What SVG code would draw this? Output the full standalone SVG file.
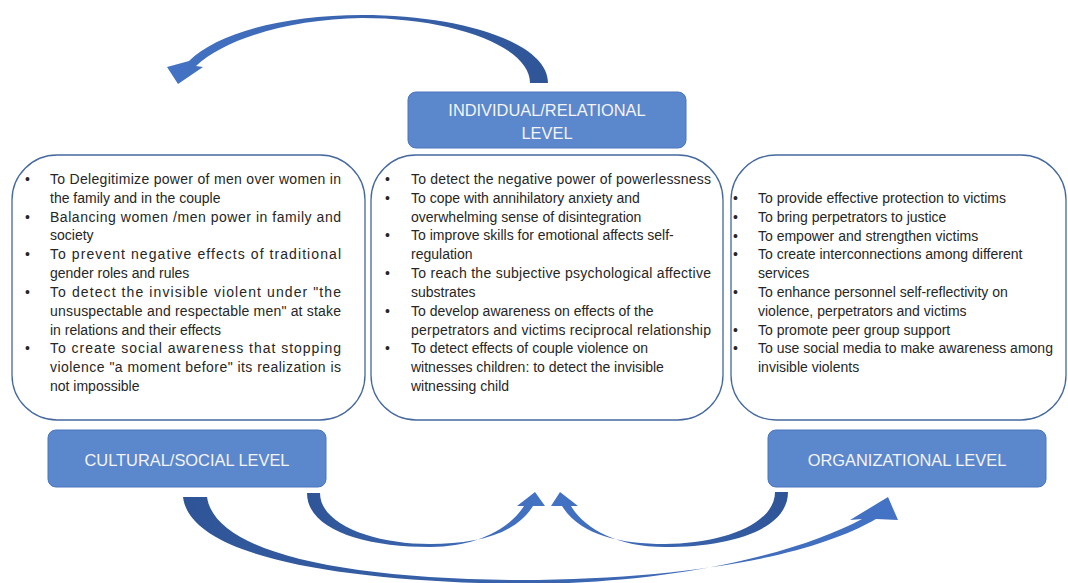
<svg xmlns="http://www.w3.org/2000/svg" width="1068" height="583" viewBox="0 0 1068 583">
<style>
.lvl{fill:#5b87cd;stroke:#4a75bb;stroke-width:1}
.lvlt{font-family:"Liberation Sans",Arial,sans-serif;font-size:16.4px;fill:#f4f4f4;text-anchor:middle}
.box{fill:#ffffff;stroke:#44689f;stroke-width:1.3}
.t{font-family:"Liberation Sans",Arial,sans-serif;font-size:14px;fill:#262626}
</style>
<defs>
<linearGradient id="gL" x1="0" y1="0" x2="1" y2="0">
<stop offset="0" stop-color="#2f5597"/><stop offset="1" stop-color="#4473c5"/>
</linearGradient>
<linearGradient id="gR" x1="1" y1="0" x2="0" y2="0">
<stop offset="0" stop-color="#2f5597"/><stop offset="1" stop-color="#4473c5"/>
</linearGradient>
</defs>

<g id="connectors">
<path id="arrow-top" fill="url(#gR)" d="M548,83 C548,42 460,15 362,15 C282,15 216,34 189,61 L167,67 L178,84 L203,67 L196,66 C226,38 292,19 362,18 C452,18 530,46 530,83 Z"/>
<path id="arrow-cultural-individual" fill="url(#gL)" d="M307,493 C307,530 365,547 430,547 C478,547 510,528 524,506 L517,506 L535,492 L545,506 L533,506 C515,535 475,544 430,544 C375,544 320,525 320,493 Z"/>
<path id="arrow-organizational-individual" fill="url(#gR)" d="M788,492 C788,530 730,547 665,547 C617,547 584,528 571,506 L578,506 L560,492 L551,506 L562,506 C580,535 620,544 665,544 C720,544 775,525 775,492 Z"/>
<path id="arrow-cultural-organizational" fill="url(#gL)" d="M183,497 C190,555 330,581 520,584 C680,584 800,552 862,519 L850,520 L888,497 L898,520 L876,519 C812,556 690,579 520,580 C340,579 215,552 207,497 Z"/>
</g>

<g id="node-individual">
<rect class="lvl" x="408" y="92" width="278" height="56" rx="8"/>
<text class="lvlt" x="547" y="116">INDIVIDUAL/RELATIONAL</text>
<text class="lvlt" x="547" y="139">LEVEL</text>
</g>

<g id="node-cultural">
<rect class="lvl" x="48" y="430" width="278" height="57" rx="8"/>
<text class="lvlt" x="187" y="466">CULTURAL/SOCIAL LEVEL</text>
</g>

<g id="node-organizational">
<rect class="lvl" x="768" y="430" width="278" height="57" rx="8"/>
<text class="lvlt" x="907" y="466">ORGANIZATIONAL LEVEL</text>
</g>

<g id="box-cultural">
<rect class="box" x="12" y="155" width="353" height="265" rx="45"/>
<g class="t">
<text x="25" y="184">•</text>
<text x="50" y="184" textLength="291" lengthAdjust="spacing">To Delegitimize power of men over women in</text>
<text x="50" y="203">the family and in the couple</text>
<text x="25" y="222">•</text>
<text x="50" y="222" textLength="291" lengthAdjust="spacing">Balancing  women /men power in family and</text>
<text x="50" y="240">society</text>
<text x="25" y="259">•</text>
<text x="50" y="259" textLength="291" lengthAdjust="spacing">To prevent negative effects of traditional</text>
<text x="50" y="278">gender roles and rules</text>
<text x="25" y="297">•</text>
<text x="50" y="297" textLength="291" lengthAdjust="spacing">To detect the invisible violent under "the</text>
<text x="50" y="316" textLength="291" lengthAdjust="spacing">unsuspectable and respectable men" at stake</text>
<text x="50" y="335">in relations and their effects</text>
<text x="25" y="353">•</text>
<text x="50" y="353" textLength="291" lengthAdjust="spacing">To create social awareness that stopping</text>
<text x="50" y="372" textLength="291" lengthAdjust="spacing">violence "a moment before" its realization is</text>
<text x="50" y="391">not impossible</text>
</g>
</g>

<g id="box-individual">
<rect class="box" x="371" y="155" width="352" height="265" rx="45"/>
<g class="t">
<text x="385" y="184">•</text>
<text x="411" y="184" textLength="300" lengthAdjust="spacing">To detect  the negative power of powerlessness</text>
<text x="385" y="203">•</text>
<text x="411" y="203">To cope with annihilatory anxiety and</text>
<text x="411" y="222">overwhelming sense of disintegration</text>
<text x="385" y="240">•</text>
<text x="411" y="240">To improve skills for emotional affects self-</text>
<text x="411" y="259">regulation</text>
<text x="385" y="278">•</text>
<text x="411" y="278" textLength="300" lengthAdjust="spacing">To reach the subjective  psychological  affective</text>
<text x="411" y="297">substrates</text>
<text x="385" y="316">•</text>
<text x="411" y="316">To develop awareness on effects of the</text>
<text x="411" y="335" textLength="300" lengthAdjust="spacing">perpetrators and victims reciprocal relationship</text>
<text x="385" y="353">•</text>
<text x="411" y="353">To detect effects of couple violence on</text>
<text x="411" y="372">witnesses children: to detect the invisible</text>
<text x="411" y="391">witnessing child</text>
</g>
</g>

<g id="box-organizational">
<rect class="box" x="731" y="155" width="335" height="265" rx="45"/>
<g class="t">
<text x="733" y="203">•</text>
<text x="758" y="203">To provide effective protection to victims</text>
<text x="733" y="222">•</text>
<text x="758" y="222">To bring perpetrators to justice</text>
<text x="733" y="241">•</text>
<text x="758" y="241">To empower and strengthen victims</text>
<text x="733" y="259">•</text>
<text x="758" y="259">To create interconnections among different</text>
<text x="758" y="278">services</text>
<text x="733" y="297">•</text>
<text x="758" y="297">To enhance personnel self-reflectivity on</text>
<text x="758" y="316">violence, perpetrators and victims</text>
<text x="733" y="335">•</text>
<text x="758" y="335">To promote peer group support</text>
<text x="733" y="353">•</text>
<text x="758" y="353">To use social media to make awareness among</text>
<text x="758" y="372">invisible violents</text>
</g>
</g>
</svg>
